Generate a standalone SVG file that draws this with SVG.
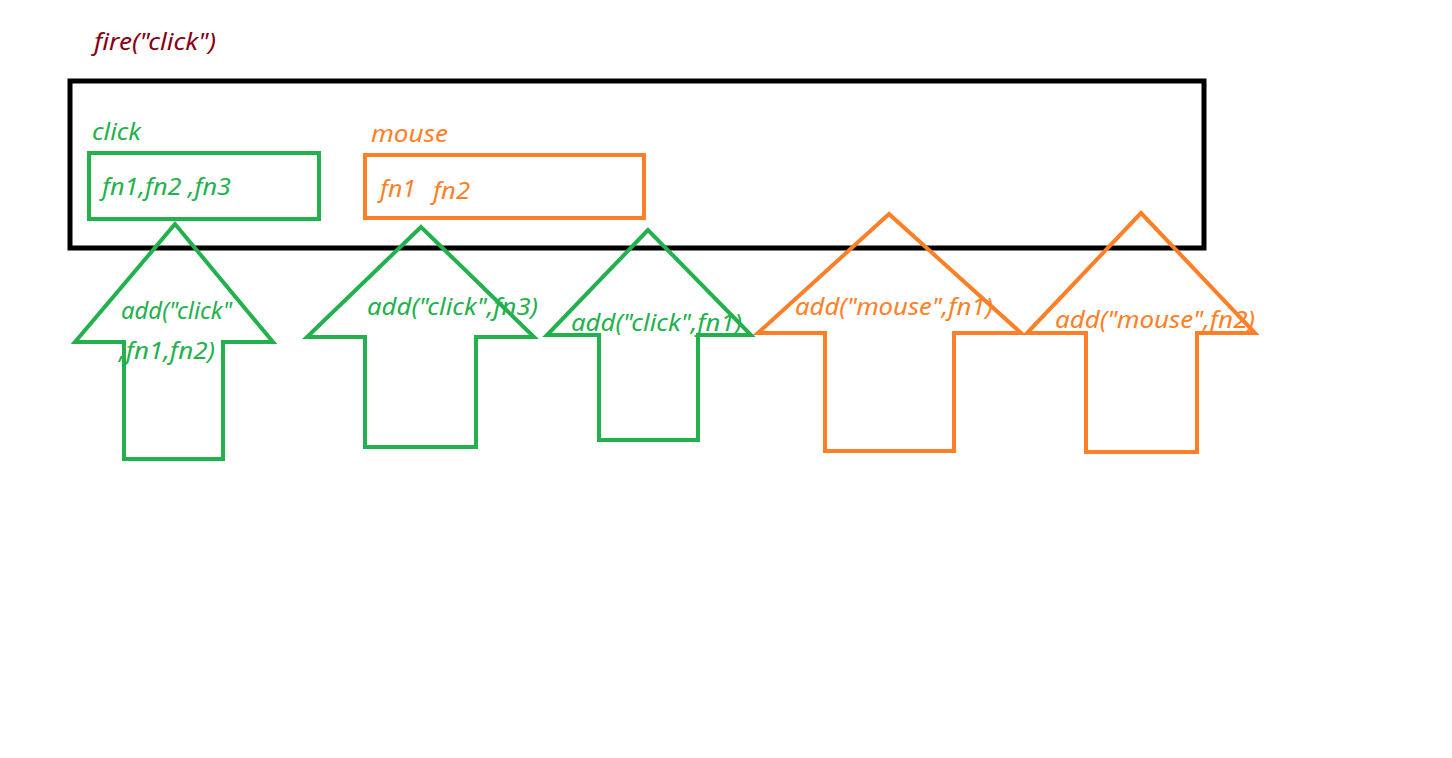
<svg xmlns="http://www.w3.org/2000/svg" width="1452" height="758" viewBox="0 0 1452 758">
<style>
text{font-family:"Noto Sans","Open Sans","DejaVu Sans",sans-serif;font-style:italic;font-size:24px}
.g{fill:#22B14C}.o{fill:#FF7F27}.r{fill:#880015}
.gs{fill:none;stroke:#22B14C;stroke-width:4}
.os{fill:none;stroke:#FF7F27;stroke-width:4}
</style>
<rect width="1452" height="758" fill="#fff"/>
<g id="fire-label"><text class="r" x="94" y="50" textLength="122" lengthAdjust="spacingAndGlyphs">fire("click")</text></g>
<g id="container"><rect x="70" y="81" width="1134" height="167" fill="none" stroke="#000" stroke-width="5"/></g>
<g id="click-box">
<text class="g" x="92" y="140" textLength="49" lengthAdjust="spacingAndGlyphs">click</text>
<rect class="gs" x="89" y="153" width="230" height="66"/>
<text class="g" x="102" y="195" textLength="129" lengthAdjust="spacingAndGlyphs">fn1,fn2 ,fn3</text>
</g>
<g id="mouse-box">
<text class="o" x="371" y="142" textLength="77" lengthAdjust="spacingAndGlyphs">mouse</text>
<rect class="os" x="365" y="155" width="279" height="63"/>
<text class="o" x="380" y="197" textLength="36" lengthAdjust="spacingAndGlyphs">fn1</text>
<text class="o" x="433" y="199" textLength="37" lengthAdjust="spacingAndGlyphs">fn2</text>
</g>
<g id="connectors">
<g id="arrow1">
<polygon class="gs" points="175,224 75,342 124,342 124,459 223,459 223,342 273,342"/>
<text class="g" x="121" y="319" textLength="111" lengthAdjust="spacingAndGlyphs">add("click"</text>
<text class="g" x="119" y="359" textLength="96" lengthAdjust="spacingAndGlyphs">,fn1,fn2)</text>
</g>
<g id="arrow2">
<polygon class="gs" points="421,227 307,337 365,337 365,447 476,447 476,337 534,337"/>
<text class="g" x="367" y="315" textLength="171" lengthAdjust="spacingAndGlyphs">add("click",fn3)</text>
</g>
<g id="arrow3">
<polygon class="gs" points="648,230 547,335 599,335 599,440 698,440 698,335 751,335"/>
<text class="g" x="571" y="331" textLength="171" lengthAdjust="spacingAndGlyphs">add("click",fn1)</text>
</g>
<g id="arrow4">
<polygon class="os" points="889,214 758,333 825,333 825,451 954,451 954,333 1021,333"/>
<text class="o" x="795" y="315" textLength="198" lengthAdjust="spacingAndGlyphs">add("mouse",fn1)</text>
</g>
<g id="arrow5">
<polygon class="os" points="1141,213 1027,333 1086,333 1086,452 1197,452 1197,333 1255,333"/>
<text class="o" x="1055" y="328" textLength="200" lengthAdjust="spacingAndGlyphs">add("mouse",fn2)</text>
</g>
</g>
</svg>
